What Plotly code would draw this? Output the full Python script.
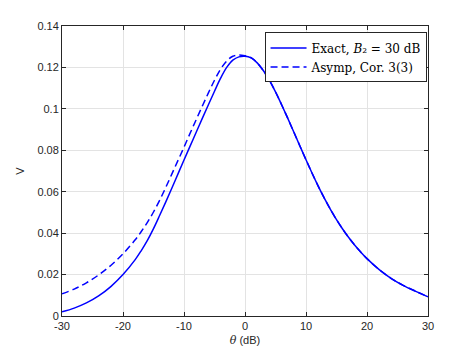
import plotly.graph_objects as go

theta_exact = [-30, -28, -26, -24, -22, -20, -18, -17, -16, -15, -14, -13, -12, -11, -10, -9, -8, -7, -6, -5, -4, -3, -2, -1, 0,
               1, 2, 3, 4, 5, 6, 7, 8, 9, 10, 11, 12, 13, 14, 15, 16, 17, 18, 19, 20, 22, 24, 26, 28, 30]
v_exact = [0.0020, 0.0038, 0.0063, 0.0097, 0.0142, 0.0200, 0.0272, 0.0316, 0.0365, 0.0422, 0.0485, 0.0550, 0.0617, 0.0685,
           0.0753, 0.0820, 0.0887, 0.0954, 0.1020, 0.1085, 0.1148, 0.1200, 0.1235, 0.1251, 0.1254,
           0.1246, 0.1222, 0.1185, 0.1138, 0.1082, 0.1020, 0.0955, 0.0888, 0.0821, 0.0754, 0.0689, 0.0627, 0.0569,
           0.0515, 0.0465, 0.0420, 0.0379, 0.0342, 0.0308, 0.0277, 0.0224, 0.0181, 0.0147, 0.0119, 0.0093]

theta_asymp = [-30, -28, -26, -24, -22, -20, -18, -17, -16, -15, -14, -13, -12, -11, -10, -9, -8, -7, -6, -5, -4, -3, -2, -1, 0,
               1, 2, 3, 4, 5, 6, 7, 8, 9, 10, 11, 12, 13, 14, 15, 16, 17, 18, 19, 20, 22, 24, 26, 28, 30]
v_asymp = [0.0107, 0.0130, 0.0160, 0.0198, 0.0244, 0.0300, 0.0368, 0.0408, 0.0452, 0.0502, 0.0558, 0.0620, 0.0685, 0.0750,
           0.0815, 0.0882, 0.0948, 0.1013, 0.1077, 0.1138, 0.1192, 0.1231, 0.1254, 0.1260, 0.1256,
           0.1247, 0.1222, 0.1185, 0.1138, 0.1082, 0.1020, 0.0955, 0.0888, 0.0821, 0.0754, 0.0689, 0.0627, 0.0569,
           0.0515, 0.0465, 0.0420, 0.0379, 0.0342, 0.0308, 0.0277, 0.0224, 0.0181, 0.0147, 0.0119, 0.0093]

x_ticks = [-30, -20, -10, 0, 10, 20, 30]
x_ticktext = ["-30", "-20", "-10", "0", "10", "20", "30"]
y_ticks = [0, 0.02, 0.04, 0.06, 0.08, 0.1, 0.12, 0.14]
y_ticktext = ["0", "0.02", "0.04", "0.06", "0.08", "0.1", "0.12", "0.14"]

fig = go.Figure()
fig.add_trace(go.Scatter(
    x=theta_exact, y=v_exact, mode="lines",
    line=dict(color="#0000ff", width=1.5, shape="spline", smoothing=1.0),
    name="Exact, <i>B</i>₂ = 30 dB"))
fig.add_trace(go.Scatter(
    x=theta_asymp, y=v_asymp, mode="lines",
    line=dict(color="#0000ff", width=1.5, dash="7px,4px", shape="spline", smoothing=1.0),
    name="Asymp, Cor. 3(3)"))

sans = "Liberation Sans, Arial, sans-serif"
axis_common = dict(
    showline=True, linecolor="#262626", linewidth=1, mirror="ticks",
    ticks="inside", ticklen=4, tickcolor="#262626",
    showgrid=True, gridcolor="#e3e3e3", gridwidth=1, zeroline=False, automargin=False,
    tickfont=dict(family=sans, size=11, color="#262626"),
)

# The page body has an 8px margin, so the figure is offset by (8, 8) in the window.
fig.update_layout(
    width=457, height=339,
    margin=dict(l=54, r=37, t=18, b=31),
    paper_bgcolor="white", plot_bgcolor="white",
    xaxis=dict(range=[-30, 30], tickvals=x_ticks, ticktext=x_ticktext,
               title=dict(text="<span style=\"font-family:'DejaVu Serif',serif\"><i>θ</i></span> (dB)", standoff=6,
                          font=dict(family=sans, size=11, color="#262626")),
               **axis_common),
    yaxis=dict(range=[0, 0.14], tickvals=y_ticks, ticktext=y_ticktext,
               title=dict(text="V", standoff=10, font=dict(family=sans, size=11, color="#262626")),
               **axis_common),
    legend=dict(x=0.996, y=0.978, xanchor="right", yanchor="top",
                bgcolor="white", bordercolor="#262626", borderwidth=1,
                font=dict(family="DejaVu Serif, Liberation Serif, serif", size=12, color="black"),
                itemwidth=36, tracegroupgap=0),
    showlegend=True,
)

fig.write_html("out.html")
